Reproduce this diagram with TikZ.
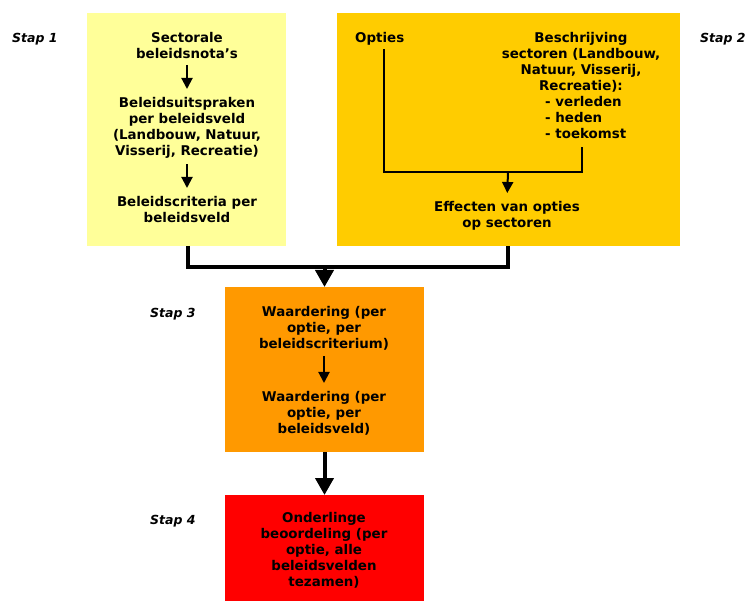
\documentclass[tikz,border=0pt]{standalone}
\usepackage{fontspec}
\setmainfont{DejaVu Sans}
\usetikzlibrary{arrows.meta}
\definecolor{cone}{HTML}{FFFF99}
\definecolor{ctwo}{HTML}{FFCC00}
\definecolor{cthree}{HTML}{FF9900}
\definecolor{cfour}{HTML}{FF0000}
\begin{document}
\begin{tikzpicture}[x=1pt,y=-1pt,
  box/.style={draw=none,inner sep=0pt,outer sep=0pt,minimum width=199pt},
  txt/.style={font=\fontsize{13.4}{16}\selectfont\bfseries,align=center,inner sep=0pt,anchor=north},
  stap/.style={font=\fontsize{12.5}{15}\selectfont\bfseries\itshape,inner sep=0pt,anchor=base west},
  thinline/.style={line width=2pt},
  thinarrow/.style={line width=2pt,-{Triangle[length=11pt,width=11pt]}},
  thickline/.style={line width=3.5pt},
  bigarrow/.style={line width=4pt,-{Triangle[length=17pt,width=18pt]}}]
\useasboundingbox (0,0) rectangle (747,601);
\fill[white] (0,0) rectangle (747,601);
% boxes
\node[box,fill=cone,minimum height=233pt] (b1) at (186.5,129.5) {};
\node[box,fill=ctwo,minimum width=343pt,minimum height=233pt] (b2) at (508.5,129.5) {};
\node[box,fill=cthree,minimum height=165pt] (b3) at (324.5,369.5) {};
\node[box,fill=cfour,minimum height=106pt] (b4) at (324.5,548) {};
% step labels
\node[stap] (s1) at (12,43) {Stap 1};
\node[stap] (s2) at (700,43) {Stap 2};
\node[stap] (s3) at (150,318) {Stap 3};
\node[stap] (s4) at (150,524) {Stap 4};
% box 1 texts
\node[txt] (t11) at (187,32) {Sectorale\\beleidsnota’s};
\node[txt] (t12) at (187,97) {Beleidsuitspraken\\per beleidsveld\\(Landbouw, Natuur,\\Visserij, Recreatie)};
\node[txt] (t13) at (187,196) {Beleidscriteria per\\beleidsveld};
\draw[thinarrow,shorten <=6pt,shorten >=8pt] (t11) -- (t12);
\draw[thinarrow,shorten <=6pt,shorten >=8pt] (t12) -- (t13);
% box 2 texts
\node[txt,anchor=north west] (opt) at (355,32) {Opties};
\node[txt] (desc) at (581,32) {Beschrijving\\sectoren (Landbouw,\\Natuur, Visserij,\\Recreatie):};
\node[txt,anchor=north west,align=left] (list) at (545,96) {- verleden\\- heden\\- toekomst};
\node[txt] (eff) at (507,201) {Effecten van opties\\op sectoren};
\coordinate (r2) at (582,172);
\coordinate (j2) at (508,172);
\draw[thinline] ([xshift=4pt,yshift=-4pt]opt.south) |- (r2) -- ([yshift=-8pt]list.south -| r2);
\draw[thinarrow,shorten >=8pt] (j2) -- (eff.north);
% box 3 and 4 texts
\node[txt] (t31) at (324,306) {Waardering (per\\optie, per\\beleidscriterium)};
\node[txt] (t32) at (324,391) {Waardering (per\\optie, per\\beleidsveld)};
\draw[thinarrow,shorten <=6pt,shorten >=8pt] (t31) -- (t32);
\node[txt] (t41) at (324,512) {Onderlinge\\beoordeling (per\\optie, alle\\beleidsvelden\\tezamen)};
% main connectors
\coordinate (j1) at (324.5,267);
\draw[thickline] ([xshift=1.5pt]b1.south) |- (j1) -| ([xshift=-0.5pt]b2.south);
\draw[bigarrow] (j1) -- (b3.north);
\draw[bigarrow] (b3.south) -- (b4.north);
\end{tikzpicture}
\end{document}
